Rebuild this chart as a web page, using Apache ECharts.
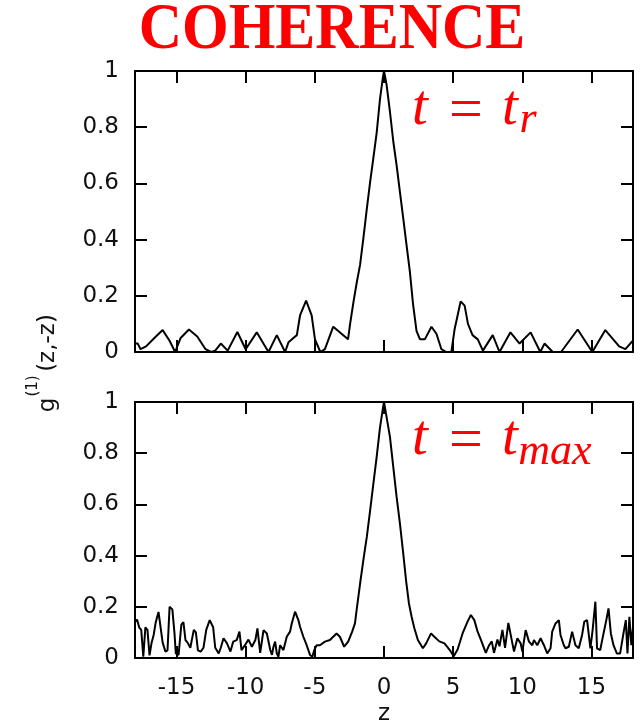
<!DOCTYPE html>
<html>
<head>
<meta charset="utf-8">
<script src="https://cdn.jsdelivr.net/npm/echarts@6/dist/echarts.min.js"></script>
<style>
  html, body { margin: 0; padding: 0; background: #fff; }
  #chart { width: 641px; height: 720px; }
</style>
</head>
<body>
<div id="chart"></div>
<script>
// z positions of the labelled ticks on both panels
const zTicks = [-15, -10, -5, 0, 5, 10, 15];

// g(1)(z,-z) at t = t_r, as [z, g] pairs
const coherenceTr = [
  [-18, 0.03], [-17.8, 0.03], [-17.6, 0.01], [-17.2, 0.02], [-16.6, 0.05], [-16.0, 0.078],
  [-15.5, 0.04], [-15.1, 0.0], [-14.7, 0.05], [-14.1, 0.08], [-13.5, 0.055], [-12.9, 0.01],
  [-12.5, 0.0], [-12.2, 0.005], [-11.8, 0.03], [-11.3, 0.005], [-10.6, 0.071], [-10.0, 0.01],
  [-9.2, 0.07], [-8.35, 0.0], [-7.75, 0.06], [-7.15, 0.0], [-6.9, 0.035], [-6.55, 0.05],
  [-6.3, 0.06], [-6.07, 0.13], [-5.63, 0.183], [-5.23, 0.13], [-4.99, 0.045], [-4.6, 0.0],
  [-4.27, 0.01], [-3.67, 0.09], [-2.6, 0.045], [-2.45, 0.1], [-2.2, 0.18], [-1.96, 0.25],
  [-1.73, 0.31], [-1.49, 0.405], [-1.24, 0.51], [-1.0, 0.606], [-0.77, 0.69], [-0.53, 0.78],
  [-0.29, 0.90], [-0.1, 0.97], [0, 1.0], [0.19, 0.95], [0.43, 0.855], [0.67, 0.75],
  [0.91, 0.665], [1.15, 0.57], [1.39, 0.476], [1.63, 0.38], [1.87, 0.286], [2.1, 0.17],
  [2.35, 0.075], [2.6, 0.045], [2.95, 0.045], [3.43, 0.09], [3.79, 0.065], [4.15, 0.01],
  [4.5, 0.0], [4.87, 0.0], [5.1, 0.08], [5.54, 0.18], [5.83, 0.165], [6.07, 0.10],
  [6.4, 0.06], [6.78, 0.045], [7.15, 0.005], [7.86, 0.06], [8.35, 0.0], [9.14, 0.07],
  [9.8, 0.03], [10.6, 0.07], [11.3, 0.0], [11.6, 0.03], [12.2, 0.0], [12.8, 0.0],
  [14.0, 0.08], [15.06, 0.0], [16.0, 0.078], [17.0, 0.02], [17.45, 0.01], [17.8, 0.03],
  [18, 0.04]
];

// g(1)(z,-z) at t = t_max, as [z, g] pairs
const coherenceTmax = [
  [-18.0, 0.14], [-17.85, 0.15], [-17.7, 0.12], [-17.55, 0.11], [-17.4, 0.005], [-17.25, 0.12],
  [-17.1, 0.11], [-16.95, 0.01], [-16.8, 0.06], [-16.65, 0.09], [-16.5, 0.14], [-16.3, 0.18],
  [-16.15, 0.12], [-16.0, 0.06], [-15.8, 0.025], [-15.65, 0.03], [-15.5, 0.2], [-15.3, 0.19],
  [-15.15, 0.1], [-15.05, 0.018], [-14.85, 0.012], [-14.65, 0.13], [-14.5, 0.14], [-14.35, 0.07],
  [-14.2, 0.06], [-14.0, 0.04], [-13.75, 0.11], [-13.6, 0.1], [-13.45, 0.03], [-13.25, 0.025],
  [-13.05, 0.04], [-12.85, 0.11], [-12.6, 0.148], [-12.35, 0.12], [-12.2, 0.04], [-11.95, 0.018],
  [-11.8, 0.04], [-11.6, 0.077], [-11.35, 0.057], [-11.1, 0.025], [-10.9, 0.064], [-10.65, 0.07],
  [-10.45, 0.103], [-10.3, 0.031], [-10.05, 0.05], [-9.8, 0.072], [-9.55, 0.044], [-9.3, 0.07],
  [-9.15, 0.116], [-8.95, 0.02], [-8.71, 0.109], [-8.47, 0.096], [-8.22, 0.031], [-8.1, 0.012],
  [-7.99, 0.044], [-7.87, 0.064], [-7.75, 0.018], [-7.63, 0.005], [-7.51, 0.05], [-7.27, 0.031],
  [-7.03, 0.083], [-6.79, 0.103], [-6.67, 0.135], [-6.43, 0.181], [-6.19, 0.148], [-6.07, 0.122],
  [-5.83, 0.083], [-5.59, 0.05], [-5.35, 0.012], [-5.18, 0.005], [-5.04, 0.031], [-4.87, 0.05],
  [-4.63, 0.05], [-4.27, 0.064], [-3.91, 0.07], [-3.43, 0.096], [-3.19, 0.083], [-2.88, 0.044],
  [-2.59, 0.064], [-2.3, 0.103], [-2.1, 0.135], [-1.95, 0.2], [-1.73, 0.29], [-1.49, 0.383],
  [-1.24, 0.474], [-1.0, 0.578], [-0.77, 0.68], [-0.53, 0.786], [-0.29, 0.9], [-0.08, 0.975],
  [0, 1.0], [0.19, 0.94], [0.43, 0.864], [0.67, 0.747], [0.91, 0.63], [1.15, 0.526],
  [1.39, 0.409], [1.6, 0.3], [1.8, 0.214], [2.0, 0.16], [2.2, 0.115], [2.45, 0.07],
  [2.81, 0.038], [3.05, 0.057], [3.4, 0.096], [3.6, 0.085], [4.0, 0.065], [4.37, 0.057],
  [4.73, 0.033], [5.04, 0.007], [5.32, 0.033], [5.68, 0.096], [6.04, 0.142], [6.28, 0.168],
  [6.53, 0.148], [6.76, 0.104], [7.0, 0.072], [7.36, 0.02], [7.6, 0.05], [7.79, 0.065],
  [7.95, 0.02], [8.2, 0.072], [8.35, 0.046], [8.56, 0.11], [8.75, 0.04], [8.99, 0.137],
  [9.28, 0.057], [9.4, 0.025], [9.64, 0.077], [9.88, 0.057], [10.0, 0.025], [10.24, 0.109],
  [10.48, 0.064], [10.72, 0.05], [10.84, 0.07], [11.08, 0.05], [11.32, 0.077], [11.56, 0.05],
  [11.8, 0.018], [12.04, 0.038], [12.16, 0.103], [12.4, 0.135], [12.64, 0.148], [12.76, 0.09],
  [13.0, 0.05], [13.12, 0.038], [13.36, 0.044], [13.6, 0.103], [13.84, 0.05], [14.08, 0.038],
  [14.32, 0.09], [14.48, 0.142], [14.68, 0.148], [14.92, 0.038], [15.08, 0.109], [15.28, 0.22],
  [15.4, 0.038], [15.63, 0.031], [15.87, 0.096], [16.07, 0.148], [16.23, 0.194], [16.4, 0.096],
  [16.59, 0.05], [16.83, 0.018], [17.07, 0.018], [17.31, 0.096], [17.48, 0.148], [17.6, 0.018],
  [17.74, 0.161], [17.88, 0.05], [18.0, 0.12]
];

const chart = echarts.init(document.getElementById('chart'), null, { renderer: 'canvas' });

const RED = '#ff0000';
const tickText = { fontFamily: 'DejaVu Sans', fontSize: 23, color: '#111' };
const frameLine = { show: true, onZero: false, lineStyle: { color: '#000', width: 2 } };
const inTick = (extra) => Object.assign({ show: true, inside: true, length: 12,
  lineStyle: { color: '#000', width: 2 } }, extra || {});

function xPair(g, withLabels) {
  return [
    {
      type: 'value', gridIndex: g, position: 'bottom', min: -18, max: 18,
      axisLine: frameLine,
      axisTick: inTick({ customValues: zTicks }),
      axisLabel: Object.assign({ show: withLabels, customValues: zTicks, margin: 19 }, tickText),
      splitLine: { show: false },
      name: withLabels ? 'z' : '', nameLocation: 'middle', nameGap: 45,
      nameTextStyle: Object.assign({}, tickText)
    },
    {
      type: 'value', gridIndex: g, position: 'top', min: -18, max: 18,
      axisLine: frameLine,
      axisTick: inTick({ customValues: zTicks }),
      axisLabel: { show: false }, splitLine: { show: false }
    }
  ];
}

function yPair(g) {
  return [
    {
      type: 'value', gridIndex: g, position: 'left', min: 0, max: 1, interval: 0.2,
      axisLine: frameLine, axisTick: inTick(),
      axisLabel: Object.assign({ margin: 16 }, tickText),
      splitLine: { show: false }
    },
    {
      type: 'value', gridIndex: g, position: 'right', min: 0, max: 1, interval: 0.2,
      axisLine: frameLine, axisTick: inTick(),
      axisLabel: { show: false }, splitLine: { show: false }
    }
  ];
}

const mathGlyph = (x, y, text, size, italic) => ({
  type: 'text', x: x, y: y, silent: true,
  style: {
    text: text, fill: RED, align: 'center', verticalAlign: 'middle',
    fontFamily: 'Liberation Serif', fontSize: size,
    fontStyle: italic ? 'italic' : 'normal'
  }
});

const sansGlyph = (x, y, text, size) => ({
  type: 'text', x: x, y: y, rotation: Math.PI / 2, silent: true,
  style: {
    text: text, fill: '#111', align: 'center', verticalAlign: 'middle',
    fontFamily: 'DejaVu Sans', fontSize: size
  }
});

chart.setOption({
  animation: false,
  backgroundColor: '#fff',
  grid: [
    { left: 135, top: 71, width: 498, height: 281, containLabel: false, outerBoundsMode: 'none' },
    { left: 135, top: 402, width: 498, height: 256, containLabel: false, outerBoundsMode: 'none' }
  ],
  xAxis: xPair(0, false).concat(xPair(1, true)),
  yAxis: yPair(0).concat(yPair(1)),
  series: [
    {
      type: 'line', xAxisIndex: 0, yAxisIndex: 0, data: coherenceTr,
      showSymbol: false, lineStyle: { color: '#000', width: 2 }
    },
    {
      type: 'line', xAxisIndex: 2, yAxisIndex: 2, data: coherenceTmax,
      showSymbol: false, lineStyle: { color: '#000', width: 2 }
    }
  ],
  graphic: [
    {
      type: 'text', x: 332, y: 31, scaleY: 1.08, silent: true,
      style: {
        text: 'COHERENCE', fill: RED, align: 'center', verticalAlign: 'middle',
        fontFamily: 'Liberation Serif', fontWeight: 'bold', fontSize: 60
      }
    },
    // t = t_r
    mathGlyph(420, 109, 't', 57, true),
    mathGlyph(466, 112, '=', 60, false),
    mathGlyph(510, 109, 't', 57, true),
    mathGlyph(528, 120, 'r', 44, true),
    // t = t_max
    mathGlyph(420, 439, 't', 57, true),
    mathGlyph(466, 442, '=', 60, false),
    mathGlyph(510, 439, 't', 57, true),
    mathGlyph(555, 452, 'max', 44, true),
    // rotated axis title g^(1)(z,-z)
    sansGlyph(48, 405, 'g', 23),
    sansGlyph(33, 386, '(1)', 15),
    sansGlyph(48, 343, '(z,-z)', 23)
  ]
});
</script>
</body>
</html>
